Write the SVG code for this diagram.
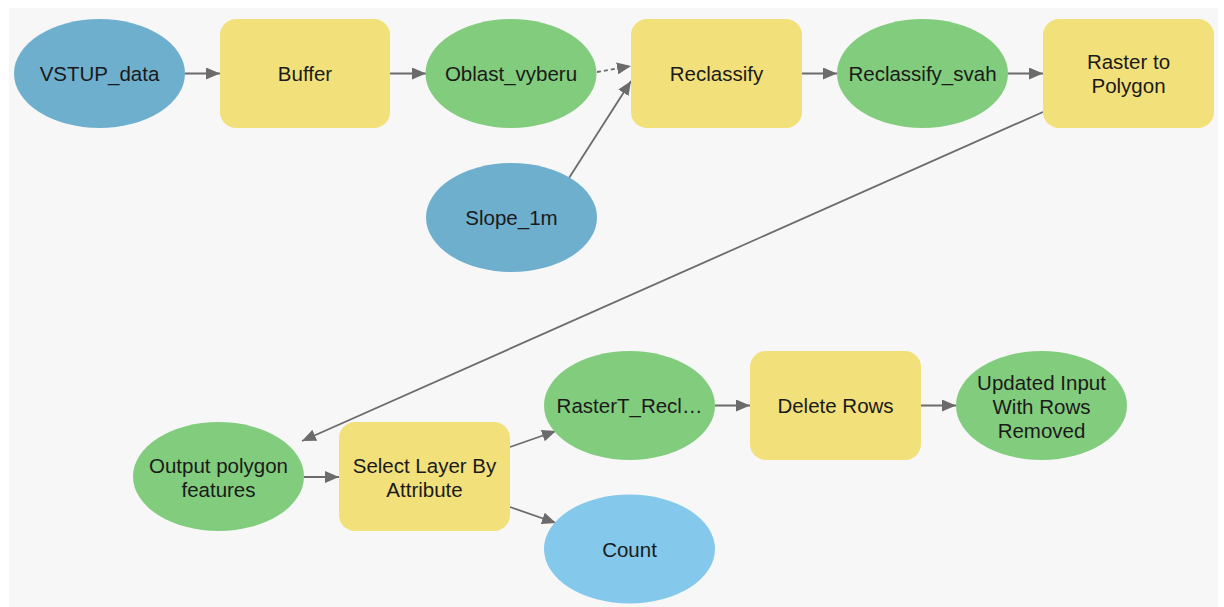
<svg xmlns="http://www.w3.org/2000/svg" width="1224" height="607" viewBox="0 0 1224 607">
  <style>
    .lbl { font-family: "Liberation Sans", Arial, sans-serif; font-size: 20.5px; fill: #1a1a1a; text-anchor: middle; dominant-baseline: central; }
    .input { fill: #6FAFCE; }
    .tool { fill: #F2E07A; }
    .derived { fill: #82CC7D; }
    .value { fill: #84C8EC; }
    .edge { stroke: #6b6b6b; stroke-width: 1.8; fill: none; marker-end: url(#arrow); }
    .dashed { stroke-dasharray: 4 3; }
  </style>
  <defs>
    <marker id="arrow" viewBox="0 0 14 12" refX="14" refY="6" markerWidth="14" markerHeight="12" markerUnits="userSpaceOnUse" orient="auto">
      <path d="M0,0 L14,6 L0,12 Z" fill="#6b6b6b"/>
    </marker>
  </defs>

  <rect x="0" y="0" width="1224" height="607" fill="#ffffff"/>
  <rect x="9" y="8" width="1209" height="599" fill="#f7f7f7"/>

  <g id="connectors">
    <line class="edge" x1="185" y1="73.5" x2="220" y2="73.5"/>
    <line class="edge" x1="390" y1="73.5" x2="426" y2="73.5"/>
    <line class="edge dashed" x1="597" y1="72" x2="631" y2="66"/>
    <line class="edge" x1="569" y1="178" x2="631" y2="81"/>
    <line class="edge" x1="802" y1="73.5" x2="837" y2="73.5"/>
    <line class="edge" x1="1008" y1="73.5" x2="1043" y2="73.5"/>
    <line class="edge" x1="1043" y1="112" x2="302" y2="441"/>
    <line class="edge" x1="304" y1="477" x2="339" y2="477"/>
    <line class="edge" x1="510" y1="447" x2="556" y2="431"/>
    <line class="edge" x1="510" y1="507" x2="556" y2="523"/>
    <line class="edge" x1="715" y1="405.5" x2="750" y2="405.5"/>
    <line class="edge" x1="921" y1="405.5" x2="956" y2="405.5"/>
  </g>

  <g id="vstup_data">
    <ellipse class="input" cx="99.5" cy="73.5" rx="85.5" ry="54.5"/>
    <text class="lbl" x="99.5" y="73.5">VSTUP_data</text>
  </g>
  <g id="buffer">
    <rect class="tool" x="220" y="19" width="170" height="109" rx="16"/>
    <text class="lbl" x="305" y="73.5">Buffer</text>
  </g>
  <g id="oblast_vyberu">
    <ellipse class="derived" cx="511" cy="73.5" rx="85.5" ry="54.5"/>
    <text class="lbl" x="511" y="73.5">Oblast_vyberu</text>
  </g>
  <g id="slope_1m">
    <ellipse class="input" cx="511.5" cy="217.5" rx="85.5" ry="54.5"/>
    <text class="lbl" x="511.5" y="217.5">Slope_1m</text>
  </g>
  <g id="reclassify">
    <rect class="tool" x="631" y="19" width="171" height="109" rx="16"/>
    <text class="lbl" x="716.5" y="73.5">Reclassify</text>
  </g>
  <g id="reclassify_svah">
    <ellipse class="derived" cx="922.5" cy="73.5" rx="85.5" ry="54.5"/>
    <text class="lbl" x="922.5" y="73.5">Reclassify_svah</text>
  </g>
  <g id="raster_to_polygon">
    <rect class="tool" x="1043" y="19" width="171" height="109" rx="16"/>
    <text class="lbl" x="1128.5" y="61.5">Raster to</text>
    <text class="lbl" x="1128.5" y="85.5">Polygon</text>
  </g>
  <g id="output_polygon_features">
    <ellipse class="derived" cx="218.5" cy="476.5" rx="85.5" ry="54.5"/>
    <text class="lbl" x="218.5" y="465">Output polygon</text>
    <text class="lbl" x="218.5" y="489">features</text>
  </g>
  <g id="select_layer_by_attribute">
    <rect class="tool" x="339" y="422" width="171" height="109" rx="16"/>
    <text class="lbl" x="424.5" y="465">Select Layer By</text>
    <text class="lbl" x="424.5" y="489">Attribute</text>
  </g>
  <g id="rastert_recl">
    <ellipse class="derived" cx="629.5" cy="405.5" rx="85.5" ry="54.5"/>
    <text class="lbl" x="629.5" y="405.5">RasterT_Recl…</text>
  </g>
  <g id="count">
    <ellipse class="value" cx="629.5" cy="549" rx="85.5" ry="54.5"/>
    <text class="lbl" x="629.5" y="549">Count</text>
  </g>
  <g id="delete_rows">
    <rect class="tool" x="750" y="351" width="171" height="109" rx="16"/>
    <text class="lbl" x="835.5" y="405.5">Delete Rows</text>
  </g>
  <g id="updated_input">
    <ellipse class="derived" cx="1041.5" cy="405.5" rx="85.5" ry="54.5"/>
    <text class="lbl" x="1041.5" y="382">Updated Input</text>
    <text class="lbl" x="1041.5" y="406">With Rows</text>
    <text class="lbl" x="1041.5" y="430">Removed</text>
  </g>
</svg>
